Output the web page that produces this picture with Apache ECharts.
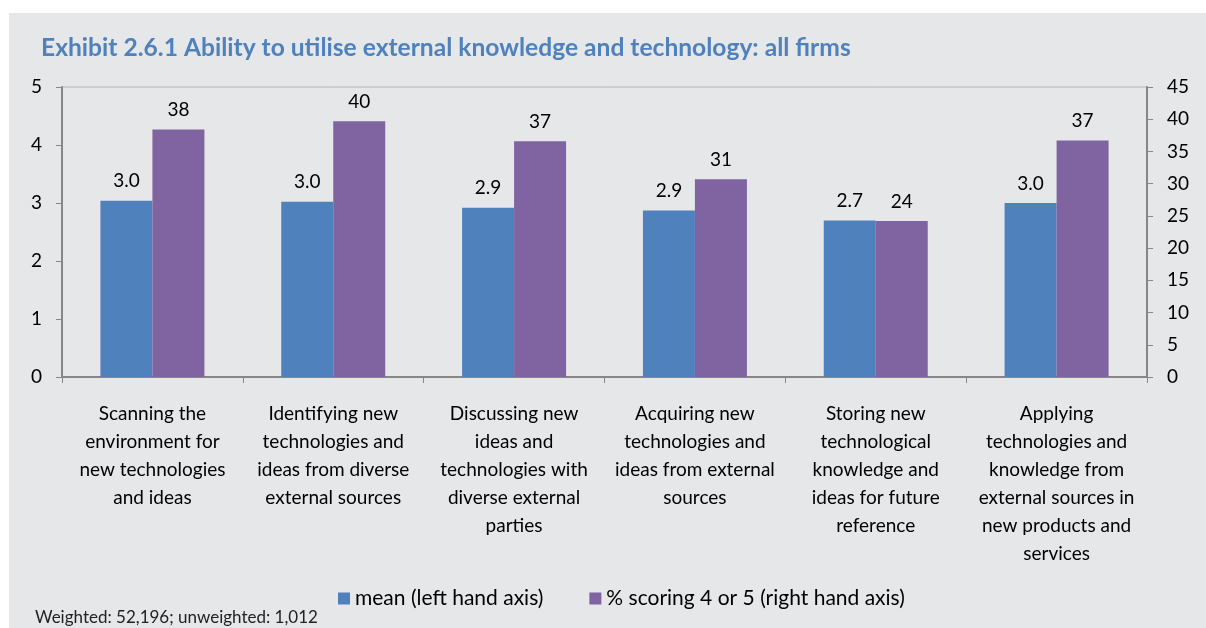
<!DOCTYPE html>
<html>
<head>
<meta charset="utf-8">
<script src="https://cdn.jsdelivr.net/npm/echarts@6/dist/echarts.min.js"></script>
<style>
  body { margin: 0; background: #ffffff; }
  #bg { position: absolute; left: 9px; top: 13px; width: 1197px; height: 615px; background: #e6e7e8; }
  #chart { position: absolute; left: 0; top: 0; width: 1206px; height: 628px; }
</style>
</head>
<body>
<div id="bg"></div>
<div id="chart"></div>
<script>
// 数据
var categories = [
  'Scanning the\nenvironment for\nnew technologies\nand ideas',
  'Identifying new\ntechnologies and\nideas from diverse\nexternal sources',
  'Discussing new\nideas and\ntechnologies with\ndiverse external\nparties',
  'Acquiring new\ntechnologies and\nideas from external\nsources',
  'Storing new\ntechnological\nknowledge and\nideas for future\nreference',
  'Applying\ntechnologies and\nknowledge from\nexternal sources in\nnew products and\nservices'
];
var meanValues = [3.04, 3.02, 2.92, 2.87, 2.70, 3.00];
var pctValues = [38.4, 39.7, 36.6, 30.7, 24.2, 36.7];
var seriesNames = ['mean (left hand axis)', '% scoring 4 or 5 (right hand axis)'];

var font = 'Lato, "Open Sans", sans-serif';
var axisColor = '#878787';

var myChart = echarts.init(document.getElementById('chart'));
var option = {
  backgroundColor: 'transparent',
  textStyle: { fontFamily: font },
  title: {
    text: 'Exhibit 2.6.1 Ability to utilise external knowledge and technology: all firms',
    left: 36,
    top: 31,
    textStyle: { color: '#4f81bd', fontSize: 24.6, fontWeight: 'bold', fontFamily: font }
  },
  legend: {
    data: seriesNames,
    left: 333,
    top: 583,
    icon: 'rect',
    itemWidth: 12,
    itemHeight: 12,
    itemGap: 46,
    textStyle: { fontSize: 21, color: '#000', fontFamily: font }
  },
  grid: {
    left: 62,
    right: 59,
    top: 87,
    bottom: 251,
    show: true,
    borderColor: '#b4b4b4',
    borderWidth: 1,
    backgroundColor: 'transparent'
  },
  xAxis: {
    type: 'category',
    data: categories,
    axisLine: { lineStyle: { color: axisColor, width: 2 } },
    axisTick: { show: true, interval: 0, length: 6, lineStyle: { color: axisColor, width: 1 } },
    axisLabel: { interval: 0, fontSize: 19, lineHeight: 28, color: '#000', margin: 23, fontFamily: font }
  },
  yAxis: [
    {
      type: 'value', min: 0, max: 5, interval: 1, position: 'left',
      axisLine: { show: true, lineStyle: { color: axisColor, width: 2 } },
      axisTick: { show: true, length: 6, lineStyle: { color: axisColor } },
      splitLine: { show: false },
      axisLabel: { fontSize: 19, color: '#000', margin: 20, fontFamily: font }
    },
    {
      type: 'value', min: 0, max: 45, interval: 5, position: 'right',
      axisLine: { show: true, lineStyle: { color: axisColor, width: 2 } },
      axisTick: { show: true, length: 6, lineStyle: { color: axisColor } },
      splitLine: { show: false },
      axisLabel: { fontSize: 19, color: '#000', margin: 20, fontFamily: font }
    }
  ],
  series: [
    {
      name: seriesNames[0],
      type: 'bar',
      yAxisIndex: 0,
      barWidth: 52,
      barGap: '0%',
      itemStyle: { color: '#4f81bd' },
      label: {
        show: true, position: 'top', distance: 10, fontSize: 19, color: '#000', fontFamily: font,
        formatter: function (p) { return p.value.toFixed(1); }
      },
      data: meanValues
    },
    {
      name: seriesNames[1],
      type: 'bar',
      yAxisIndex: 1,
      barWidth: 52,
      itemStyle: { color: '#8064a2' },
      label: {
        show: true, position: 'top', distance: 10, fontSize: 19, color: '#000', fontFamily: font,
        formatter: function (p) { return Math.round(p.value); }
      },
      data: pctValues
    }
  ],
  graphic: [
    {
      type: 'text',
      left: 35,
      top: 609,
      style: { text: 'Weighted: 52,196; unweighted: 1,012', fontSize: 17, fill: '#222', fontFamily: font }
    }
  ]
};
myChart.setOption(option);
</script>
</body>
</html>
